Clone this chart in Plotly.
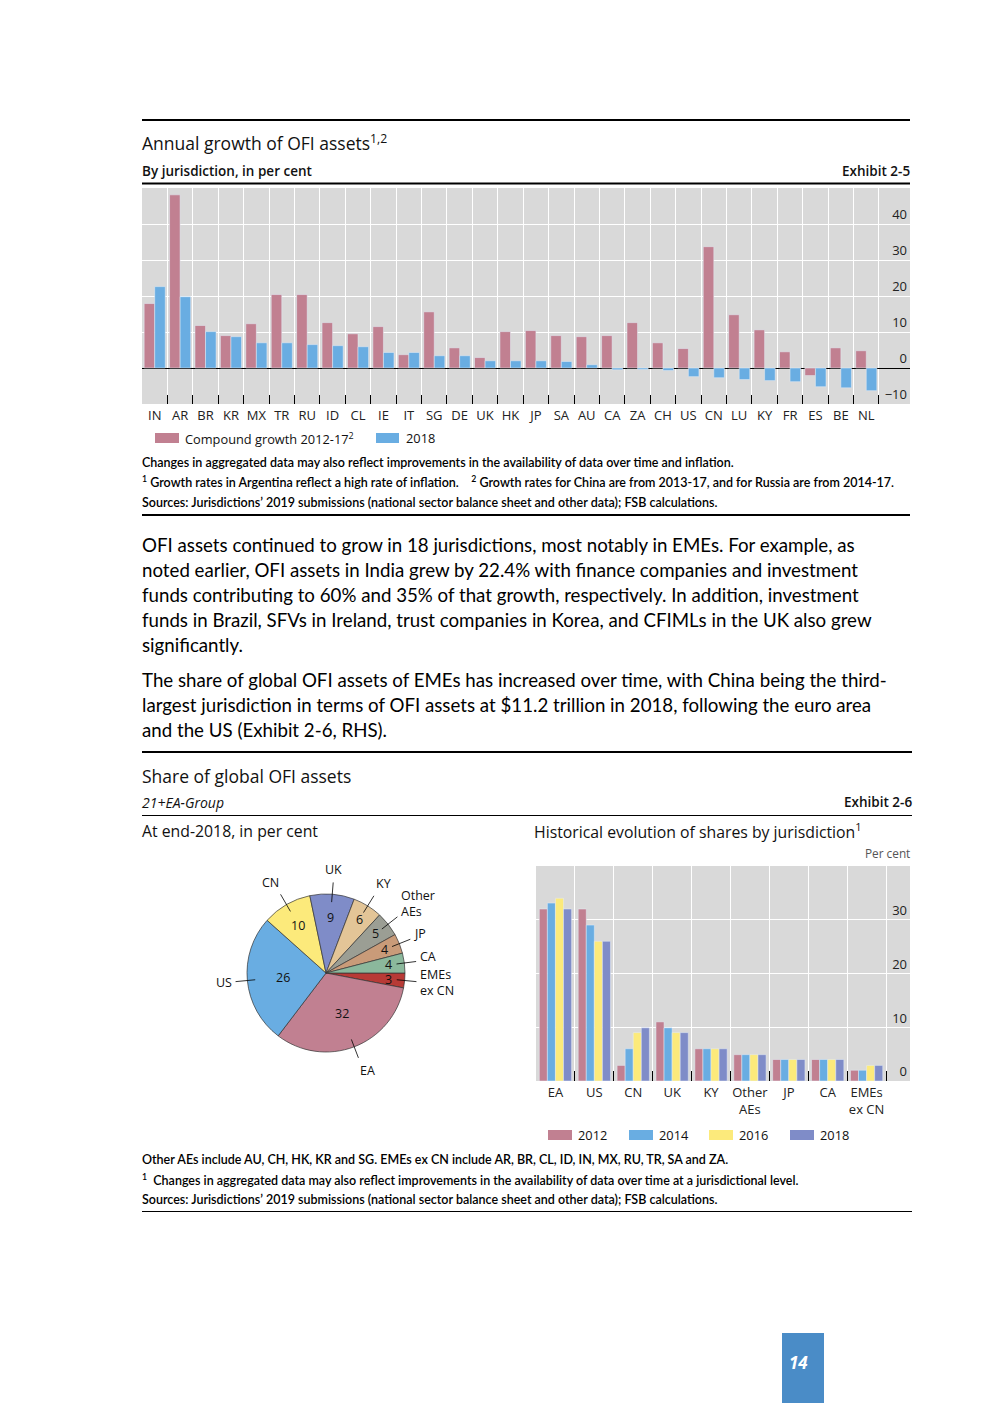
import math
import plotly.graph_objects as go

W, H = 992, 1403

# ---------------- Data: Exhibit 2-5 ----------------
jurisdictions = ["IN", "AR", "BR", "KR", "MX", "TR", "RU", "ID", "CL", "IE", "IT", "SG", "DE", "UK", "HK",
                 "JP", "SA", "AU", "CA", "ZA", "CH", "US", "CN", "LU", "KY", "FR", "ES", "BE", "NL"]
growth_2012_17 = [17.9, 48.1, 11.8, 9.0, 12.3, 20.4, 20.4, 12.6, 9.5, 11.5, 3.7, 15.6, 5.6, 2.9, 10.1,
                  10.4, 9.0, 8.7, 9.0, 12.6, 7.0, 5.4, 33.7, 14.8, 10.6, 4.5, -2.1, 5.6, 4.8]
growth_2018 = [22.6, 19.8, 10.1, 8.7, 7.0, 7.0, 6.5, 6.2, 5.9, 4.3, 4.3, 3.4, 3.4, 2.0, 2.0,
               2.0, 1.8, 0.9, -0.5, -0.4, -0.7, -2.4, -2.7, -3.2, -3.5, -3.8, -5.2, -5.5, -6.3]
y1_ticks = [-10, 0, 10, 20, 30, 40]

# ---------------- Data: Exhibit 2-6 (pie) ----------------
pie_labels = ["EMEs ex CN", "EA", "US", "CN", "UK", "KY", "Other AEs", "JP", "CA"]
pie_label_text = ["EMEs<br>ex CN", "EA", "US", "CN", "UK", "KY", "Other<br>AEs", "JP", "CA"]
pie_values = [3, 32, 26, 10, 9, 6, 5, 4, 4]

# ---------------- Data: Exhibit 2-6 (bars) ----------------
share_categories = ["EA", "US", "CN", "UK", "KY", "Other<br>AEs", "JP", "CA", "EMEs<br>ex CN"]
share_2012 = [32.0, 32.0, 2.9, 11.0, 6.0, 4.9, 4.0, 4.0, 2.0]
share_2014 = [33.1, 29.0, 6.0, 9.9, 6.0, 4.9, 4.0, 4.0, 2.0]
share_2016 = [34.0, 26.0, 9.0, 9.0, 6.0, 4.9, 4.0, 4.0, 2.9]
share_2018 = [32.0, 26.0, 9.9, 9.0, 6.0, 4.9, 4.0, 4.0, 2.9]
y2_ticks = [0, 10, 20, 30]

# ---------------- Styles ----------------
PINK = "#c18091"
BLUE = "#69ade2"
YELLOW = "#fcea7b"
PURPLE = "#7f8cc8"
BG = "#d9d9d9"
pie_colors = ["#b83a36", PINK, BLUE, YELLOW, PURPLE, "#e3c597", "#9b9e94", "#c99b79", "#8bb89c"]

UI = "Open Sans, Noto Sans, DejaVu Sans, sans-serif"
BODY = "Lato, Carlito, Noto Sans, sans-serif"


def px(x):
    return x / W


def py(y):
    return 1 - y / H


fig = go.Figure()

# Exhibit 2-5 bars
fig.add_trace(go.Bar(x=jurisdictions, y=growth_2012_17, marker_color=PINK, xaxis="x", yaxis="y",
                     name="Compound growth 2012-17", hoverinfo="skip"))
fig.add_trace(go.Bar(x=jurisdictions, y=growth_2018, marker_color=BLUE, xaxis="x", yaxis="y",
                     name="2018", hoverinfo="skip"))

# Exhibit 2-6 bars
for vals, col, nm in [(share_2012, PINK, "2012"), (share_2014, BLUE, "2014"),
                      (share_2016, YELLOW, "2016"), (share_2018, PURPLE, "2018")]:
    fig.add_trace(go.Bar(x=share_categories, y=vals, marker_color=col, xaxis="x2", yaxis="y2",
                         name=nm, hoverinfo="skip"))

# Pie
CX, CY, R = 326, 973, 79
fig.add_trace(go.Pie(values=pie_values, labels=pie_labels, sort=False, direction="clockwise",
                     rotation=90, marker=dict(colors=pie_colors, line=dict(color="#333333", width=0.7)),
                     textinfo="none", hoverinfo="skip", showlegend=False,
                     domain=dict(x=[px(CX - R), px(CX + R)], y=[py(CY + R), py(CY - R)])))

annotations = []
shapes = []


def text(x, y, s, size, family=UI, color="#111111", xanchor="left", yanchor="middle",
         weight="normal", style="normal", align="left"):
    annotations.append(dict(x=px(x), y=py(y), xref="paper", yref="paper", text=s, showarrow=False,
                            xanchor=xanchor, yanchor=yanchor, align=align, borderpad=0, borderwidth=0,
                            font=dict(size=size, family=family, color=color, weight=weight, style=style)))


def hline(y, x0, x1, width):
    shapes.append(dict(type="line", xref="paper", yref="paper", x0=px(x0), x1=px(x1), y0=py(y), y1=py(y),
                       line=dict(color="black", width=width)))


def rect(x0, y0, x1, y1, color):
    shapes.append(dict(type="rect", xref="paper", yref="paper", x0=px(x0), x1=px(x1), y0=py(y1), y1=py(y0),
                       fillcolor=color, line=dict(width=0)))


# ---- Exhibit 2-5 header ----
hline(120, 142, 910, 2)
text(142, 143, "Annual growth of OFI assets<sup>1,2</sup>", 17.5)
text(142, 171, "By jurisdiction, in per cent", 13.5, weight=600)
text(910, 171, "Exhibit 2-5", 13.5, weight=600, xanchor="right")
hline(183.5, 142, 910, 2)

# legend 2-5
rect(155, 433, 179, 443, PINK)
text(185, 438, "Compound growth 2012-17<sup>2</sup>", 12.8)
rect(376, 433, 399, 443, BLUE)
text(406, 438, "2018", 12.8)

NOTE = 12.5
text(142, 463, "Changes in aggregated data may also reflect improvements in the availability of data over time and inflation.", NOTE, family=BODY, color="#000000", weight=600)
text(142, 482, "<sup>1</sup> Growth rates in Argentina reflect a high rate of inflation.\u00a0\u00a0\u00a0\u00a0<sup>2</sup> Growth rates for China are from 2013-17, and for Russia are from 2014-17.", NOTE, family=BODY, color="#000000", weight=600)
text(142, 502, "Sources: Jurisdictions\u2019 2019 submissions (national sector balance sheet and other data); FSB calculations.", NOTE, family=BODY, color="#000000", weight=600)
hline(515, 142, 910, 2)

# ---- Body text ----
BS = 18.7
body_lines = [
    (545, "OFI assets continued to grow in 18 jurisdictions, most notably in EMEs. For example, as"),
    (570, "noted earlier, OFI assets in India grew by 22.4% with finance companies and investment"),
    (595, "funds contributing to 60% and 35% of that growth, respectively. In addition, investment"),
    (620, "funds in Brazil, SFVs in Ireland, trust companies in Korea, and CFIMLs in the UK also grew"),
    (645, "significantly."),
    (680, "The share of global OFI assets of EMEs has increased over time, with China being the third-"),
    (705, "largest jurisdiction in terms of OFI assets at $11.2 trillion in 2018, following the euro area"),
    (730, "and the US (Exhibit 2-6, RHS)."),
]
for yy, s in body_lines:
    text(142, yy, s, BS, family=BODY, color="#000000")

# ---- Exhibit 2-6 header ----
hline(752, 142, 912, 2)
text(142, 776, "Share of global OFI assets", 17.5)
text(142, 802, "21+EA-Group", 14, style="italic")
text(912, 802, "Exhibit 2-6", 13.5, weight=600, xanchor="right")
hline(815.5, 142, 912, 1)
text(142, 831, "At end-2018, in per cent", 15.8)
text(534, 831, "Historical evolution of shares by jurisdiction<sup>1</sup>", 15.8)
text(910, 853, "Per cent", 11.8, color="#555555", xanchor="right")

# pie labels (computed from cumulative shares)
total = sum(pie_values)
cum = 0.0
for v, lab in zip(pie_values, pie_label_text):
    mid = (cum + v / 2) / total * 360.0
    cum += v
    a = math.radians(mid)
    c, s = math.cos(a), math.sin(a)
    rf = 0.55 if v >= 20 else (0.7 if v >= 9 else 0.8)
    text(CX + rf * R * c, CY + rf * R * s, str(v), 12.5, xanchor="center")
    # leader line
    shapes.append(dict(type="line", xref="paper", yref="paper",
                       x0=px(CX + 0.9 * R * c), y0=py(CY + 0.9 * R * s),
                       x1=px(CX + 1.15 * R * c), y1=py(CY + 1.15 * R * s),
                       line=dict(color="black", width=0.8)))
    xa = "left" if c > 0.35 else ("right" if c < -0.35 else "center")
    ya = "bottom" if s < -0.8 else ("top" if s > 0.8 else "middle")
    lx, ly = CX + 1.2 * R * c, CY + 1.2 * R * s
    if ya == "middle" and s < 0:
        if "<br>" in lab:
            ya = "bottom"
            ly += 6
        else:
            ly -= 4
    text(lx, ly, lab, 12.5, xanchor=xa, yanchor=ya)

# legend 2-6
for x0, col, lab in [(548, PINK, "2012"), (629, BLUE, "2014"), (709, YELLOW, "2016"), (790, PURPLE, "2018")]:
    rect(x0, 1130, x0 + 24, 1140, col)
    text(x0 + 30, 1135, lab, 12.8)

text(142, 1159, "Other AEs include AU, CH, HK, KR and SG. EMEs ex CN include AR, BR, CL, ID, IN, MX, RU, TR, SA and ZA.", NOTE, family=BODY, color="#000000", weight=600)
text(142, 1179, "<sup>1</sup>\u00a0 Changes in aggregated data may also reflect improvements in the availability of data over time at a jurisdictional level.", NOTE, family=BODY, color="#000000", weight=600)
text(142, 1199, "Sources: Jurisdictions\u2019 2019 submissions (national sector balance sheet and other data); FSB calculations.", NOTE, family=BODY, color="#000000", weight=600)
hline(1211.5, 142, 912, 1)

# page number
rect(782, 1333, 824, 1403, "#4a8cc7")
text(798, 1362, "14", 17, color="white", xanchor="center", weight="bold", style="italic")

TICKF = dict(size=13, family=UI, color="#222222")
axis_common = dict(showline=False, fixedrange=True)
fig.update_layout(
    width=W, height=H, margin=dict(l=0, r=0, t=0, b=0),
    paper_bgcolor="white", plot_bgcolor=BG,
    barmode="group", bargap=0.17, bargroupgap=0,
    showlegend=False,
    font=dict(family=UI, color="#111111"),
    xaxis=dict(domain=[px(142), px(910)], anchor="y", type="category",
               range=[-0.5, len(jurisdictions) - 0.5 + 31 / 25.4],
               tickson="boundaries", ticks="inside", ticklen=9, tickcolor="black", tickwidth=1,
               tickangle=0, ticklabelstandoff=2, showgrid=True, gridcolor="white", gridwidth=1,
               zeroline=False, tickfont=TICKF, **axis_common),
    yaxis=dict(domain=[py(404), py(188)], anchor="x", range=[-10, 50], tickvals=y1_ticks,
               side="right", ticklabelposition="inside top", ticks="",
               showgrid=True, gridcolor="white", gridwidth=1,
               zeroline=True, zerolinecolor="black", zerolinewidth=1.3,
               tickfont=TICKF, **axis_common),
    xaxis2=dict(domain=[px(536), px(910)], anchor="y2", type="category",
                range=[-0.5, len(share_categories) - 0.5 + 24 / 38.97],
                tickson="boundaries", ticks="inside", ticklen=10, tickcolor="black", tickwidth=1,
                tickangle=0, ticklabelstandoff=2, showgrid=True, gridcolor="white", gridwidth=1,
                zeroline=False, tickfont=TICKF, **axis_common),
    yaxis2=dict(domain=[py(1081), py(866)], anchor="x2", range=[0, 40], tickvals=y2_ticks,
                side="right", ticklabelposition="inside top", ticks="",
                showgrid=True, gridcolor="white", gridwidth=1, zeroline=False,
                tickfont=TICKF, **axis_common),
    annotations=annotations,
    shapes=shapes,
)

fig.write_html("out.html", config={"displayModeBar": False},
               post_script="document.body.style.margin='0';document.body.style.padding='0';")
